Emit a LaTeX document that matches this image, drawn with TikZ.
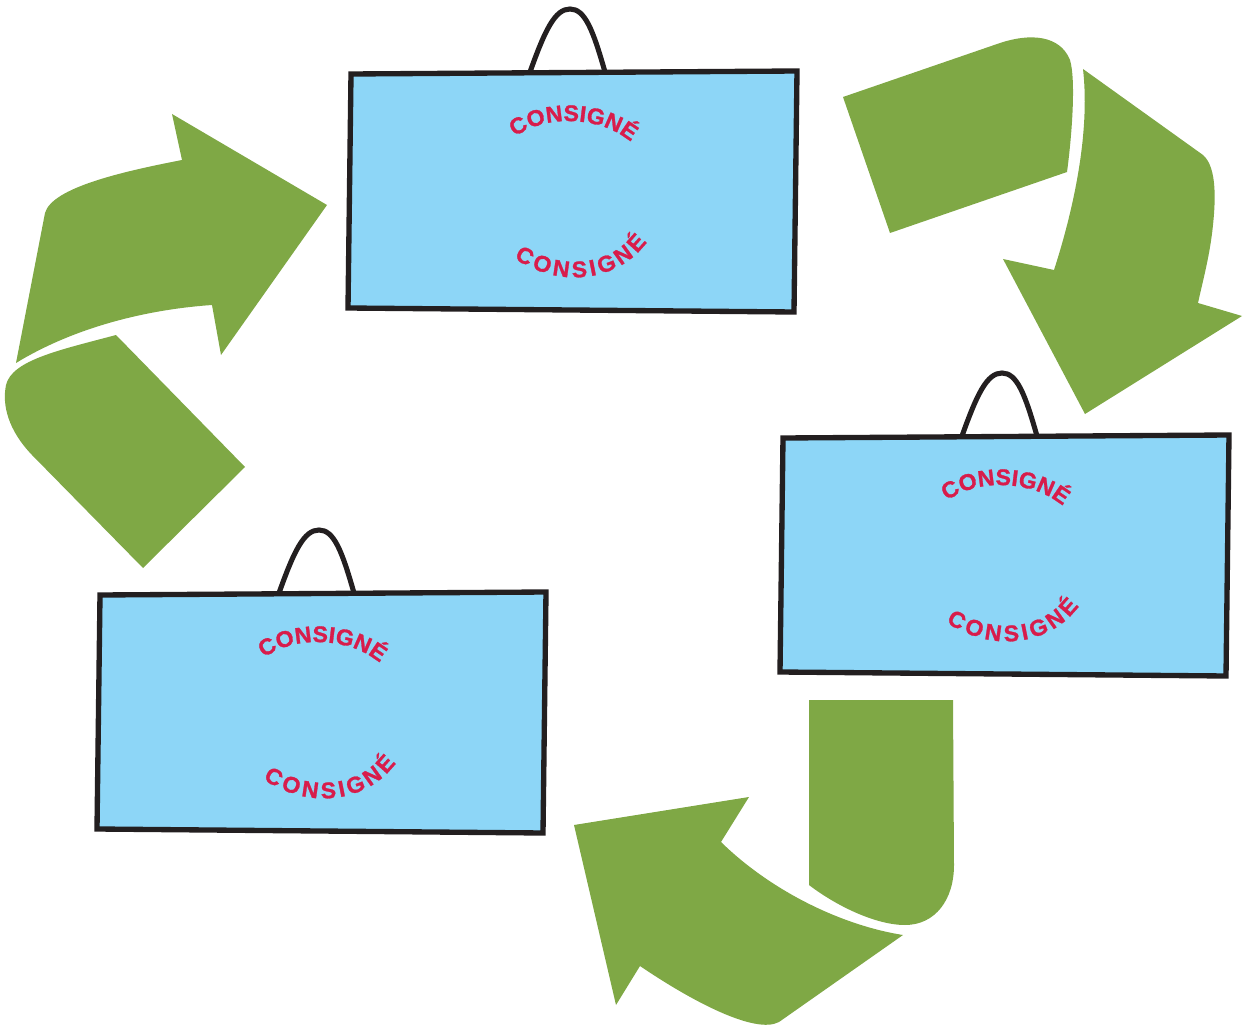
\documentclass[tikz,border=0pt]{standalone}
\usepackage{fontspec}
\newfontfamily\stampfont[FakeBold=1.2,FakeStretch=1.02]{Liberation Sans Bold}
\usetikzlibrary{decorations.text}
\definecolor{leaf}{HTML}{7FA845}
\definecolor{sky}{HTML}{8DD6F7}
\definecolor{stamp}{HTML}{D81C4B}
\definecolor{ink}{HTML}{231F20}
\newcommand{\stamptext}{|\fontsize{17pt}{17pt}\stampfont\color{stamp}|CONSIGNÉ}
\tikzset{
  x=0.75pt,y=-0.75pt,
  arrowshape/.style={fill=leaf,draw=none},
  bagbody/.style={fill=sky,draw=ink,line width=4pt,line join=miter},
  baghandle/.style={draw=ink,line width=3.8pt,line cap=butt},
  stampline/.style={decorate,decoration={text along path,text align={fit to path},text={\stamptext}}},
  pics/bag/.style={code={
    \draw[baghandle] (181,0) .. controls (196,-42) and (206,-63) .. (221,-63)
       .. controls (236,-63) and (244,-42) .. (256,0);
    \draw[bagbody] (2,2) -- (448,-1) -- (445,240) -- (-1,236) -- cycle;
    \path[stampline] (166,65) .. controls (195,43) and (250,43) .. (282,70);
    \path[stampline] (165,186) .. controls (205,214) and (265,214) .. (298,170);
  }}
}
\begin{document}
\begin{tikzpicture}
\useasboundingbox (0,0) rectangle (1243,1027);
% upper-left arrow
\fill[arrowshape] (16,363) -- (45,213) .. controls (52,188) and (120,172) .. (182,160)
  -- (172,114) -- (327,205) -- (221,355) -- (212,305)
  .. controls (140,310) and (70,330) .. (16,363) -- cycle;
\fill[arrowshape] (116,335) -- (245,467) -- (143,568) -- (32,455)
  .. controls (8,430) and (2,405) .. (6,385) .. controls (12,360) and (60,350) .. (116,335) -- cycle;
% upper-right arrow
\fill[arrowshape] (843,97) -- (1000,43) .. controls (1030,33) and (1060,35) .. (1070,60)
  .. controls (1076,80) and (1072,135) .. (1067,172) -- (890,233) -- cycle;
\fill[arrowshape] (1083,69) -- (1203,155) .. controls (1218,168) and (1215,205) .. (1213,225)
  .. controls (1210,255) and (1203,280) .. (1198,303) -- (1242,316) -- (1085,414) -- (1003,259) -- (1054,270)
  .. controls (1075,205) and (1090,130) .. (1083,69) -- cycle;
% lower arrow
\fill[arrowshape] (809,700) -- (953,700) -- (954,865) .. controls (954,900) and (935,925) .. (905,925)
  .. controls (875,925) and (835,905) .. (809,885) -- cycle;
\fill[arrowshape] (903,935) -- (779,1022) .. controls (755,1035) and (690,1000) .. (640,966)
  -- (616,1005) -- (574,825) -- (749,797) -- (721,842)
  .. controls (770,890) and (840,925) .. (903,935) -- cycle;
% bags
\pic (bagone) at (349,72) {bag};
\pic (bagtwo) at (781,436) {bag};
\pic (bagthree) at (98,593) {bag};
\end{tikzpicture}
\end{document}
